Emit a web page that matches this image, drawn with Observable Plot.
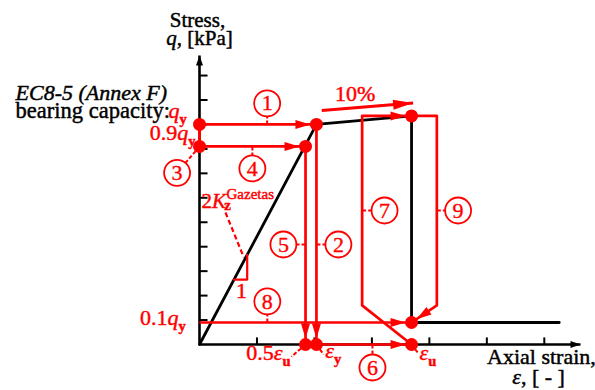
<!DOCTYPE html>
<html>
<head>
<meta charset="utf-8">
<script src="https://cdn.jsdelivr.net/npm/d3@7"></script>
<script src="https://cdn.jsdelivr.net/npm/@observablehq/plot@0.6"></script>
<style>
  body { margin: 0; background: #fff; }
</style>
</head>
<body>
<div id="chart"></div>
<script>
// Axis ticks (strain and stress in tick units)
const strainTicks = [1, 2, 3, 4, 5, 6];
const stressTicks = [1, 2, 3, 4, 5, 6, 7, 8, 9, 10, 11];

// Key values of the idealised footing response
const qY = 9;          // bearing capacity q_y (EC8-5 Annex F)
const qPeak = 9.35;    // stress after a further 10% strain beyond yield
const epsY = 2.035;    // yield strain
const epsU = 3.69;     // ultimate strain
const epsEnd = 6.26;   // end of residual branch

// Black backbone curve
const responseStrain = [0, epsY, epsU, epsU, epsEnd];
const responseStress = [0, qY, qPeak, 0.1 * qY, 0.1 * qY];

// Corners of the reloading / unloading loops (steps 7 and 9)
const reloadStrain = 2.83;
const unloadStrain = 4.13;
const kneeStress = 1.6;

// Loading step numbers
const steps = [1, 2, 3, 4, 5, 6, 7, 8, 9];

const RED = "#f00";
const FONT = "Liberation Serif, Times New Roman, serif";

// Filled arrowhead marker, tip set back by `back` px from the path end
function arrowHead(len, half, back) {
  return (color) => {
    const m = d3.create("svg:marker")
      .attr("markerUnits", "userSpaceOnUse")
      .attr("orient", "auto")
      .attr("overflow", "visible")
      .attr("markerWidth", 1)
      .attr("markerHeight", 1);
    m.append("path")
      .attr("d", `M${-back},0L${-back - len},${-half}L${-back - len},${half}Z`)
      .attr("fill", color)
      .attr("stroke", "none");
    return m.node();
  };
}
const redHead = arrowHead(15, 4.5, 6);
const bigHead = arrowHead(20, 5, 0);
const axisHead = arrowHead(10, 3.5, 0);

// Straight red loading steps
const segments = [
  {x1: 0, y1: qY, x2: epsY, y2: qY},                     // 1
  {x1: epsY, y1: qY, x2: epsY, y2: 0},                   // 2
  {x1: 0, y1: 0.9 * qY, x2: 0.5 * epsU, y2: 0.9 * qY},   // 4
  {x1: 0.5 * epsU, y1: 0.9 * qY, x2: 0.5 * epsU, y2: 0}, // 5
  {x1: epsY, y1: 0, x2: epsU, y2: 0},                    // 6
  {x1: 0, y1: 0.1 * qY, x2: epsU, y2: 0.1 * qY}          // 8
];
const reloadPath = [[epsU, 0], [reloadStrain, kneeStress], [reloadStrain, qPeak], [epsU, qPeak]];
const unloadPath = [[epsU, qPeak], [unloadStrain, qPeak], [unloadStrain, kneeStress], [epsU, 0.1 * qY]];

const keyPoints = [
  [0, qY], [0, 0.9 * qY], [epsY, qY], [0.5 * epsU, 0.9 * qY],
  [0.5 * epsU, 0], [epsY, 0], [epsU, qPeak], [epsU, 0.1 * qY], [epsU, 0]
];

// Badge placement for each step, and where its leader meets the path
const badgeAt = [[1.177, 9.86], [2.417, 4.09], [-0.39, 7.02], [0.92, 7.2], [1.46, 4.09],
                 [3.01, -0.94], [3.22, 5.48], [1.18, 1.76], [4.5, 5.48]];
const badgeFrom = [[1.177, qY], [epsY, 4.09], [0, 0.9 * qY], [0.92, 0.9 * qY], [0.5 * epsU, 4.09],
                   [3.01, 0], [reloadStrain, 5.48], [1.18, 0.1 * qY], [unloadStrain, 5.48]];
const badges = steps.map((n, i) => ({n, x: badgeAt[i][0], y: badgeAt[i][1], fx: badgeFrom[i][0], fy: badgeFrom[i][1]}));

// Short dashed leaders from the strain labels
const leaders = [
  {x1: 0.5 * epsU, y1: 0, x2: 1.6, y2: -0.5},
  {x1: epsY, y1: 0, x2: 2.16, y2: -0.41},
  {x1: epsU, y1: 0, x2: 3.81, y2: -0.37}
];
// Leader from the stiffness label to its triangle
const stiffLeader = [{x1: 0.452, y1: 5.4, x2: 0.77, y2: 3.57}];

// Stiffness triangle on the elastic branch
const slope = qY / epsY;
const tri = [[0.6, 0.6 * slope], [0.83, 0.6 * slope], [0.83, 0.83 * slope]];

function label(t, x, y, opts = {}) {
  const fill = opts.fill ?? "black";
  return Plot.text([{t, x, y}], {
    x: "x", y: "y", text: "t", lineAnchor: "bottom",
    fontFamily: FONT, fontSize: 21, fill, stroke: fill, strokeWidth: 0.45, ...opts
  });
}

const plot = Plot.plot({
  width: 595,
  height: 390,
  x: {domain: [0, 6.63], range: [199, 580], axis: null},
  y: {domain: [0, 11.82], range: [344, 55], axis: null},
  style: {background: "white", fontFamily: FONT, overflow: "visible"},
  marks: [
    // axes with arrow tips
    Plot.link([{x1: 0, y1: 0, x2: 0, y2: 11.82}], {x1: "x1", y1: "y1", x2: "x2", y2: "y2", stroke: "black", strokeWidth: 2.6, markerEnd: axisHead}),
    Plot.link([{x1: 0, y1: 0, x2: 6.63, y2: 0}], {x1: "x1", y1: "y1", x2: "x2", y2: "y2", stroke: "black", strokeWidth: 2.6, markerEnd: axisHead}),
    // inward ticks
    Plot.link(stressTicks, {x1: 0, x2: 0.14, y1: d => d, y2: d => d, stroke: "black", strokeWidth: 2}),
    Plot.link(strainTicks, {x1: d => d, x2: d => d, y1: 0, y2: 0.29, stroke: "black", strokeWidth: 2}),
    // backbone response
    Plot.line(responseStrain.map((e, i) => [e, responseStress[i]]), {stroke: "black", strokeWidth: 2.8}),
    // stiffness triangle and leaders
    Plot.line(tri, {stroke: RED, strokeWidth: 2.2}),
    Plot.link(stiffLeader, {x1: "x1", y1: "y1", x2: "x2", y2: "y2", stroke: RED, strokeWidth: 2.2, strokeDasharray: "5,3"}),
    Plot.link(leaders, {x1: "x1", y1: "y1", x2: "x2", y2: "y2", stroke: RED, strokeWidth: 2, strokeDasharray: "4,2"}),
    // badge leaders
    Plot.link(badges, {x1: "fx", y1: "fy", x2: "x", y2: "y", stroke: RED, strokeWidth: 2, strokeDasharray: "4,2"}),
    // step 3 along the stress axis
    Plot.link([{x1: 0, y1: qY, x2: 0, y2: 0.9 * qY}], {x1: "x1", y1: "y1", x2: "x2", y2: "y2", stroke: RED, strokeWidth: 3}),
    // loading steps
    Plot.link(segments, {x1: "x1", y1: "y1", x2: "x2", y2: "y2", stroke: RED, strokeWidth: 2.7, markerEnd: redHead}),
    Plot.line(reloadPath, {stroke: RED, strokeWidth: 2.7, markerEnd: redHead}),
    Plot.line(unloadPath, {stroke: RED, strokeWidth: 2.7, markerEnd: redHead}),
    // 10% strain increment
    Plot.link([{x1: 2.127, y1: 9.574, x2: 3.717, y2: 9.873}], {x1: "x1", y1: "y1", x2: "x2", y2: "y2", stroke: RED, strokeWidth: 3, markerEnd: bigHead}),
    // key points
    Plot.dot(keyPoints, {r: 6.5, fill: RED}),
    // step badges
    Plot.dot(badges, {x: "x", y: "y", r: 13, fill: "white", stroke: RED, strokeWidth: 1.8}),
    Plot.text(badges, {x: "x", y: "y", text: d => String(d.n), fontSize: 22, fill: RED, stroke: RED, strokeWidth: 0.35, fontFamily: FONT}),
    // axis titles
    label("Stress,", -0.035, 12.97, {textAnchor: "middle"}),
    label("i~q|, [kPa]", 0, 12.23, {textAnchor: "middle"}),
    label("Axial strain,", 5.95, -0.78, {textAnchor: "middle", fontSize: 22}),
    label("i~ε|, [ - ]", 5.9, -1.6, {textAnchor: "middle", fontSize: 22}),
    // capacity annotation
    label("EC8-5 (Annex F)", -3.2, 9.98, {textAnchor: "start", fontStyle: "italic", fontSize: 22}),
    label("bearing capacity:", -3.2, 9.25, {textAnchor: "start", fontSize: 22.5}),
    label("i~q|s~y", -0.54, 9.25, {textAnchor: "start", fill: RED, fontSize: 22}),
    label("0.9|i~q|s~y", -0.07, 8.35, {textAnchor: "end", fill: RED, fontSize: 22}),
    label("0.1|i~q|s~y", -0.24, 0.78, {textAnchor: "end", fill: RED, fontSize: 22}),
    // strain labels
    label("0.5|i~ε|s~u", 1.583, -0.65, {textAnchor: "end", fill: RED, fontSize: 22}),
    label("i~ε|s~y", 2.19, -0.57, {textAnchor: "start", fill: RED, fontSize: 22}),
    label("i~ε|s~u", 3.83, -0.65, {textAnchor: "start", fill: RED, fontSize: 22}),
    label("10%", 2.71, 9.94, {textAnchor: "middle", fill: RED, fontSize: 22}),
    // stiffness label
    label("2|i~K", 0.035, 5.6, {textAnchor: "start", fill: RED, fontSize: 21}),
    label("z", 0.43, 5.5, {textAnchor: "start", fill: RED, fontSize: 15, fontWeight: "bold"}),
    label("Gazetas", 0.47, 5.97, {textAnchor: "start", fill: RED, fontSize: 15}),
    label("1", 0.73, 1.92, {textAnchor: "middle", fill: RED, fontSize: 22})
  ]
});

document.getElementById("chart").append(plot);

// Turn "kind~text|..." markup into italic / subscript tspans
function richText(root) {
  root.querySelectorAll("text").forEach(t => {
    const s = t.textContent;
    if (!s.includes("|") && !s.includes("~")) return;
    const base = parseFloat(getComputedStyle(t).fontSize) || 21;
    t.textContent = "";
    let shift = 0;
    for (const part of s.split("|")) {
      const k = part.indexOf("~");
      const kind = k > 0 ? part.slice(0, k) : "";
      const str = k > 0 ? part.slice(k + 1) : part;
      const span = document.createElementNS("http://www.w3.org/2000/svg", "tspan");
      let target = 0;
      if (kind === "i") span.setAttribute("font-style", "italic");
      if (kind === "s") {
        span.setAttribute("font-size", `${base * 0.66}px`);
        span.setAttribute("font-weight", "bold");
        target = base * 0.24;
      }
      if (target !== shift) span.setAttribute("dy", `${target - shift}px`);
      shift = target;
      span.textContent = str;
      t.appendChild(span);
    }
  });
}
richText(plot);
</script>
</body>
</html>
